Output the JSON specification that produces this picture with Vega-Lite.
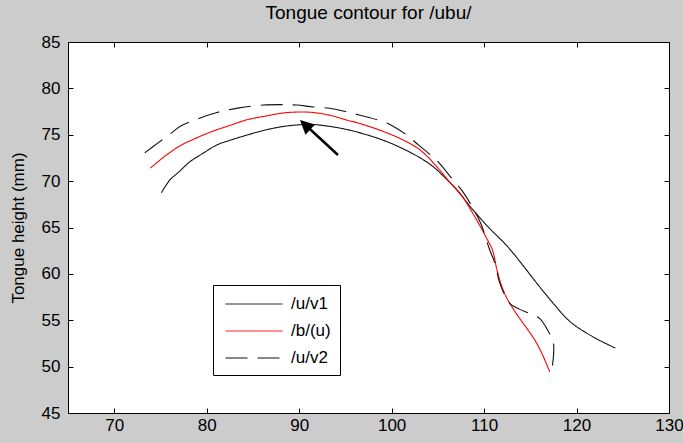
{
  "$schema": "https://vega.github.io/schema/vega-lite/v6.json",
  "width": 601,
  "height": 371,
  "autosize": {"type": "none"},
  "padding": {"left": 68, "top": 42, "right": 14, "bottom": 30},
  "background": "#cccccc",
  "title": {"text": "Tongue contour for /ubu/", "font": "Liberation Sans", "fontSize": 19, "fontWeight": "normal", "color": "black", "anchor": "middle", "baseline": "alphabetic", "offset": -5},
  "config": {
    "view": {"fill": "white", "stroke": "black", "strokeWidth": 1},
    "axis": {"domain": false, "grid": false, "tickColor": "black", "tickSize": -5, "tickWidth": 1, "labelFont": "Liberation Sans", "labelFontSize": 17, "labelColor": "black", "titleFont": "Liberation Sans", "titleFontSize": 17, "titleFontWeight": "normal", "titleColor": "black", "labelFlush": false, "labelOverlap": false, "labelBound": false},
    "legend": {"orient": "none", "legendX": 145, "legendY": 243, "strokeColor": "black", "fillColor": "white", "padding": 9, "cornerRadius": 0, "labelFont": "Liberation Sans", "labelFontSize": 17, "labelColor": "black", "symbolType": "M-3,0H3", "symbolSize": 361, "symbolStrokeWidth": 1, "symbolFillColor": "transparent", "labelOffset": 27, "rowPadding": 9, "symbolOffset": 22}
  },
  "datasets": {
    "contours": [
      {"s": "/u/v1", "i": 1, "x": 75.1, "y": 68.75},
      {"s": "/u/v1", "i": 2, "x": 76.0, "y": 70.1},
      {"s": "/u/v1", "i": 3, "x": 77.0, "y": 71.0},
      {"s": "/u/v1", "i": 4, "x": 78.2, "y": 72.1},
      {"s": "/u/v1", "i": 5, "x": 79.6, "y": 73.0},
      {"s": "/u/v1", "i": 6, "x": 81.1, "y": 73.9},
      {"s": "/u/v1", "i": 7, "x": 82.5, "y": 74.4},
      {"s": "/u/v1", "i": 8, "x": 84.3, "y": 74.95},
      {"s": "/u/v1", "i": 9, "x": 86.1, "y": 75.45},
      {"s": "/u/v1", "i": 10, "x": 88.0, "y": 75.85},
      {"s": "/u/v1", "i": 11, "x": 89.7, "y": 76.05},
      {"s": "/u/v1", "i": 12, "x": 91.5, "y": 76.1},
      {"s": "/u/v1", "i": 13, "x": 93.3, "y": 75.9},
      {"s": "/u/v1", "i": 14, "x": 95.0, "y": 75.6},
      {"s": "/u/v1", "i": 15, "x": 96.6, "y": 75.2},
      {"s": "/u/v1", "i": 16, "x": 98.7, "y": 74.55},
      {"s": "/u/v1", "i": 17, "x": 100.9, "y": 73.65},
      {"s": "/u/v1", "i": 18, "x": 103.1, "y": 72.5},
      {"s": "/u/v1", "i": 19, "x": 104.5, "y": 71.55},
      {"s": "/u/v1", "i": 20, "x": 105.6, "y": 70.55},
      {"s": "/u/v1", "i": 21, "x": 107.0, "y": 69.1},
      {"s": "/u/v1", "i": 22, "x": 108.8, "y": 66.9},
      {"s": "/u/v1", "i": 23, "x": 110.5, "y": 65.0},
      {"s": "/u/v1", "i": 24, "x": 112.4, "y": 63.1},
      {"s": "/u/v1", "i": 25, "x": 113.9, "y": 61.3},
      {"s": "/u/v1", "i": 26, "x": 115.3, "y": 59.5},
      {"s": "/u/v1", "i": 27, "x": 116.5, "y": 58.0},
      {"s": "/u/v1", "i": 28, "x": 117.5, "y": 56.8},
      {"s": "/u/v1", "i": 29, "x": 119.3, "y": 54.85},
      {"s": "/u/v1", "i": 30, "x": 121.8, "y": 53.2},
      {"s": "/u/v1", "i": 31, "x": 124.2, "y": 52.0},
      {"s": "/b/(u)", "i": 1, "x": 73.9, "y": 71.4},
      {"s": "/b/(u)", "i": 2, "x": 75.5, "y": 72.7},
      {"s": "/b/(u)", "i": 3, "x": 77.1, "y": 73.8},
      {"s": "/b/(u)", "i": 4, "x": 79.0, "y": 74.7},
      {"s": "/b/(u)", "i": 5, "x": 80.7, "y": 75.4},
      {"s": "/b/(u)", "i": 6, "x": 82.5, "y": 76.0},
      {"s": "/b/(u)", "i": 7, "x": 84.3, "y": 76.6},
      {"s": "/b/(u)", "i": 8, "x": 86.3, "y": 77.0},
      {"s": "/b/(u)", "i": 9, "x": 88.3, "y": 77.35},
      {"s": "/b/(u)", "i": 10, "x": 90.0, "y": 77.45},
      {"s": "/b/(u)", "i": 11, "x": 91.5, "y": 77.4},
      {"s": "/b/(u)", "i": 12, "x": 93.3, "y": 77.1},
      {"s": "/b/(u)", "i": 13, "x": 95.1, "y": 76.6},
      {"s": "/b/(u)", "i": 14, "x": 96.6, "y": 76.2},
      {"s": "/b/(u)", "i": 15, "x": 98.7, "y": 75.5},
      {"s": "/b/(u)", "i": 16, "x": 100.9, "y": 74.6},
      {"s": "/b/(u)", "i": 17, "x": 103.1, "y": 73.35},
      {"s": "/b/(u)", "i": 18, "x": 105.2, "y": 71.2},
      {"s": "/b/(u)", "i": 19, "x": 106.2, "y": 70.0},
      {"s": "/b/(u)", "i": 20, "x": 107.4, "y": 68.7},
      {"s": "/b/(u)", "i": 21, "x": 108.5, "y": 67.0},
      {"s": "/b/(u)", "i": 22, "x": 109.6, "y": 65.1},
      {"s": "/b/(u)", "i": 23, "x": 110.4, "y": 63.6},
      {"s": "/b/(u)", "i": 24, "x": 110.9, "y": 62.6},
      {"s": "/b/(u)", "i": 25, "x": 111.4, "y": 60.4},
      {"s": "/b/(u)", "i": 26, "x": 111.8, "y": 59.0},
      {"s": "/b/(u)", "i": 27, "x": 112.4, "y": 57.5},
      {"s": "/b/(u)", "i": 28, "x": 113.3, "y": 56.0},
      {"s": "/b/(u)", "i": 29, "x": 114.2, "y": 54.7},
      {"s": "/b/(u)", "i": 30, "x": 115.0, "y": 53.6},
      {"s": "/b/(u)", "i": 31, "x": 115.7, "y": 52.5},
      {"s": "/b/(u)", "i": 32, "x": 116.4, "y": 51.1},
      {"s": "/b/(u)", "i": 33, "x": 117.1, "y": 49.45},
      {"s": "/u/v2", "i": 1, "x": 73.3, "y": 73.05},
      {"s": "/u/v2", "i": 2, "x": 74.7, "y": 74.1},
      {"s": "/u/v2", "i": 3, "x": 76.2, "y": 75.2},
      {"s": "/u/v2", "i": 4, "x": 77.1, "y": 75.9},
      {"s": "/u/v2", "i": 5, "x": 79.0, "y": 76.7},
      {"s": "/u/v2", "i": 6, "x": 81.1, "y": 77.4},
      {"s": "/u/v2", "i": 7, "x": 83.5, "y": 77.9},
      {"s": "/u/v2", "i": 8, "x": 86.1, "y": 78.2},
      {"s": "/u/v2", "i": 9, "x": 88.0, "y": 78.25},
      {"s": "/u/v2", "i": 10, "x": 89.7, "y": 78.2},
      {"s": "/u/v2", "i": 11, "x": 91.5, "y": 78.0},
      {"s": "/u/v2", "i": 12, "x": 93.3, "y": 77.85},
      {"s": "/u/v2", "i": 13, "x": 95.0, "y": 77.5},
      {"s": "/u/v2", "i": 14, "x": 96.6, "y": 77.1},
      {"s": "/u/v2", "i": 15, "x": 99.1, "y": 76.4},
      {"s": "/u/v2", "i": 16, "x": 100.2, "y": 75.9},
      {"s": "/u/v2", "i": 17, "x": 101.6, "y": 75.0},
      {"s": "/u/v2", "i": 18, "x": 102.9, "y": 73.9},
      {"s": "/u/v2", "i": 19, "x": 104.0, "y": 73.0},
      {"s": "/u/v2", "i": 20, "x": 105.2, "y": 71.9},
      {"s": "/u/v2", "i": 21, "x": 106.5, "y": 70.3},
      {"s": "/u/v2", "i": 22, "x": 107.6, "y": 69.0},
      {"s": "/u/v2", "i": 23, "x": 108.5, "y": 67.6},
      {"s": "/u/v2", "i": 24, "x": 109.7, "y": 65.3},
      {"s": "/u/v2", "i": 25, "x": 110.6, "y": 62.6},
      {"s": "/u/v2", "i": 26, "x": 111.2, "y": 61.1},
      {"s": "/u/v2", "i": 27, "x": 111.7, "y": 59.0},
      {"s": "/u/v2", "i": 28, "x": 112.8, "y": 56.8},
      {"s": "/u/v2", "i": 29, "x": 113.8, "y": 56.2},
      {"s": "/u/v2", "i": 30, "x": 114.9, "y": 55.75},
      {"s": "/u/v2", "i": 31, "x": 116.0, "y": 55.2},
      {"s": "/u/v2", "i": 32, "x": 116.9, "y": 53.9},
      {"s": "/u/v2", "i": 33, "x": 117.5, "y": 52.5},
      {"s": "/u/v2", "i": 34, "x": 117.5, "y": 51.1},
      {"s": "/u/v2", "i": 35, "x": 117.3, "y": 49.45}
    ],
    "arrow": [
      {"x": 94.2, "y": 72.82, "x2": 90.89, "y2": 75.86}
    ],
    "arrowhead": [
      {"x": 90.09, "y": 76.59}
    ]
  },
  "layer": [
    {
      "data": {"name": "contours"},
      "mark": {"type": "line", "strokeWidth": 1.1, "interpolate": "catmull-rom"},
      "encoding": {
        "x": {"field": "x", "type": "quantitative", "scale": {"domain": [65, 130], "nice": false, "zero": false},
              "axis": {"orient": "bottom", "values": [70, 80, 90, 100, 110, 120, 130], "title": null, "labelPadding": 9}},
        "y": {"field": "y", "type": "quantitative", "scale": {"domain": [45, 85], "nice": false, "zero": false},
              "axis": {"orient": "left", "values": [45, 50, 55, 60, 65, 70, 75, 80, 85], "title": "Tongue height (mm)", "labelPadding": 13, "titlePadding": 14}},
        "color": {"field": "s", "type": "nominal", "title": null,
                  "scale": {"domain": ["/u/v1", "/b/(u)", "/u/v2"], "range": ["#111111", "#ff0000", "#111111"]}},
        "strokeDash": {"field": "s", "type": "nominal", "title": null,
                       "scale": {"domain": ["/u/v1", "/b/(u)", "/u/v2"], "range": [[1, 0], [1, 0], [22, 10]]}},
        "order": {"field": "i", "type": "quantitative"}
      }
    },
    {
      "data": {"name": "arrow"},
      "mark": {"type": "rule", "color": "black", "strokeWidth": 2.5},
      "encoding": {
        "x": {"field": "x", "type": "quantitative", "axis": {"orient": "top", "values": [70, 80, 90, 100, 110, 120, 130], "labels": false, "title": null}},
        "y": {"field": "y", "type": "quantitative", "axis": {"orient": "right", "values": [45, 50, 55, 60, 65, 70, 75, 80, 85], "labels": false, "title": null}},
        "x2": {"field": "x2"},
        "y2": {"field": "y2"}
      }
    },
    {
      "data": {"name": "arrowhead"},
      "mark": {"type": "point", "shape": "M0,0L1.75,3.5L-1.75,3.5Z", "filled": true, "color": "black", "opacity": 1, "size": 64, "angle": 313},
      "encoding": {
        "x": {"field": "x", "type": "quantitative", "axis": null},
        "y": {"field": "y", "type": "quantitative", "axis": null}
      }
    }
  ],
  "resolve": {"axis": {"x": "independent", "y": "independent"}}
}
